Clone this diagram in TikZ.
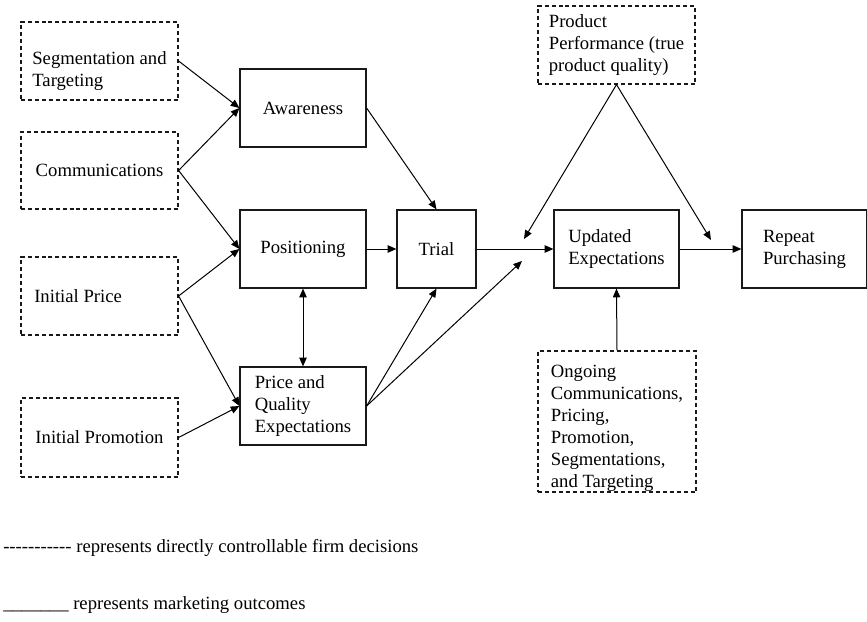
\documentclass[tikz,border=0pt]{standalone}
\usepackage{fontspec}
\setmainfont{Liberation Serif}
\newfontfamily\legfont[Ligatures=TeXOff]{Liberation Serif}
\usetikzlibrary{arrows.meta}
\begin{document}
\begin{tikzpicture}[x=0.75pt,y=-0.75pt,
  font=\fontsize{14pt}{16.5pt}\selectfont,
  base/.style={draw=black!90, line width=0.9pt, inner sep=0pt, align=left},
  sz/.style 2 args={minimum width=#1*0.75pt, minimum height=#2*0.75pt},
  dbox/.style={base, dash pattern=on 3pt off 2.2pt},
  sbox/.style={base},
  conn/.style={line width=0.75pt, -{Triangle[length=6.5pt,width=5.5pt]}},
  biconn/.style={line width=0.75pt, {Triangle[length=6.5pt,width=5.5pt]}-{Triangle[length=6.5pt,width=5.5pt]}},
  legend/.style={anchor=west, inner sep=0pt, font=\legfont\fontsize{14pt}{16.5pt}\selectfont}]
\useasboundingbox (0,0) rectangle (867,621);
% controllable decisions (dashed)
\node[dbox, sz={157}{78}] (seg) at (99.5,61) {};
\node[align=left] (segt) at (99.5,71) {Segmentation and\\Targeting};
\node[dbox, sz={157}{77}] (comm) at (99.5,170.5) {Communications};
\node[dbox, sz={157}{78}] (price) at (99.5,296) {};
\node[anchor=west, inner sep=0pt] (pricet) at (34,296) {Initial Price};
\node[dbox, sz={157}{79}] (promo) at (99.5,437.5) {Initial Promotion};
\node[dbox, sz={157}{78}] (pp) at (616.5,45) {Product\\Performance (true\\product quality)};
\node[dbox, sz={158}{141}] (ong) at (617,421.5) {};
\node[align=left, inner sep=0pt] (ongt) at (617,428) {Ongoing\\Communications,\\Pricing,\\Promotion,\\Segmentations,\\and Targeting};
% outcomes (solid)
\node[sbox, sz={126}{78}] (aw) at (303,108) {Awareness};
\node[sbox, sz={126}{78}] (pos) at (303,249) {Positioning};
\node[sbox, sz={126}{78}] (pq) at (303,406) {Price and\\Quality\\Expectations};
\node[sbox, sz={79}{78}] (trial) at (436.5,249) {Trial};
\node[sbox, sz={125}{78}] (upd) at (616.5,249) {Updated\\Expectations};
\node[sbox, sz={125}{78}] (rep) at (804.5,249) {Repeat\\Purchasing};
% free ends
\coordinate (m1) at (524,239);
\coordinate (m2) at (711,240);
\coordinate (m3) at (522,261);
% connectors
\draw[conn] (seg.east) -- (aw.west);
\draw[conn] (comm.east) -- (aw.west);
\draw[conn] (comm.east) -- (pos.west);
\draw[conn] (price.east) -- (pos.west);
\draw[conn] (price.east) -- (pq.west);
\draw[conn] (promo.east) -- (pq.west);
\draw[conn] (aw.east) -- (trial.north);
\draw[conn] (pos.east) -- (trial.west);
\draw[conn] (pq.east) -- (trial.south);
\draw[conn] (pq.east) -- (m3);
\draw[biconn] (pos.south) -- (pq.north);
\draw[conn] (trial.east) -- (upd.west);
\draw[conn] (pp.south) -- (m1);
\draw[conn] (pp.south) -- (m2);
\draw[conn] (upd.east) -- (rep.west);
\draw[conn] (ong.north) -- (upd.south);
% legend
\node[legend] (leg1) at (3,548) {----------- represents directly controllable firm decisions};
\node[legend] (leg2) at (3,605) {\_\_\_\_\_\_\_ represents marketing outcomes};
\end{tikzpicture}
\end{document}
